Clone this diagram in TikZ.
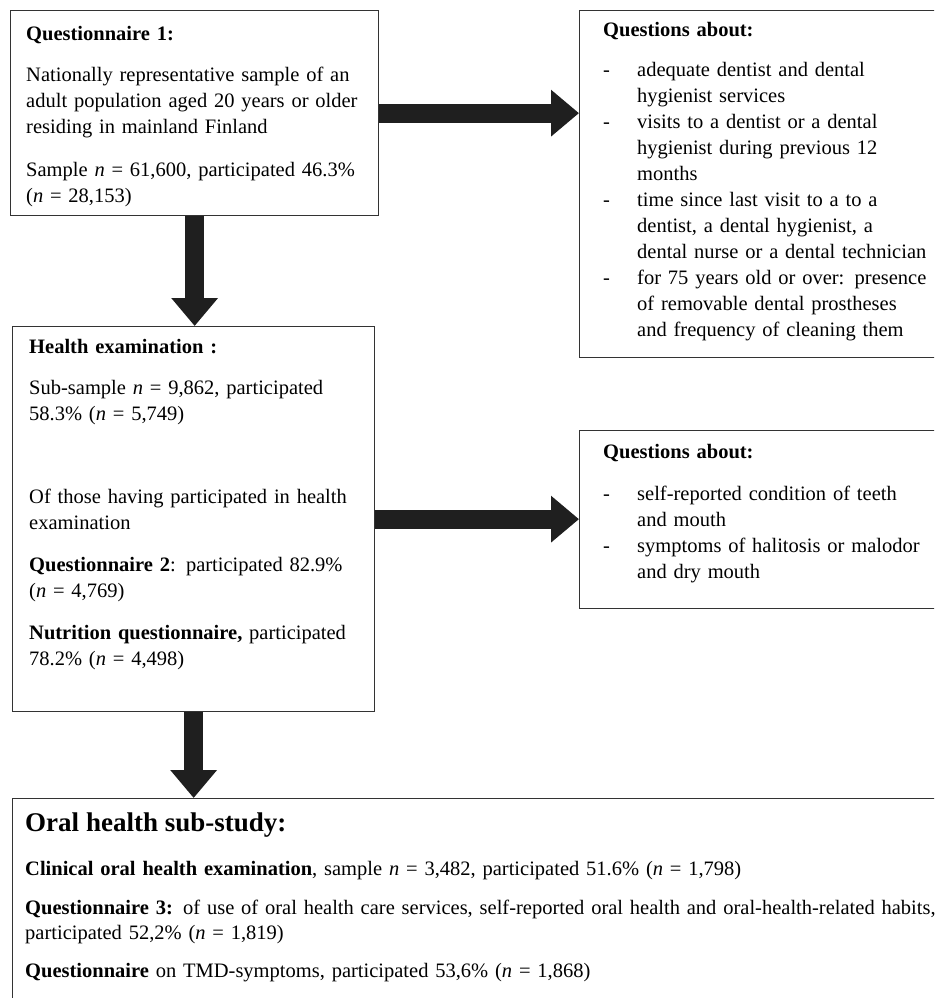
\documentclass[tikz,border=0pt]{standalone}
\usepackage{fontspec}
\setmainfont{Liberation Serif}
\usetikzlibrary{arrows.meta,positioning}
\def\listdash{\makebox[34pt][l]{-}}
\def\listskip{\hspace*{34pt}}

\begin{document}
\begin{tikzpicture}[x=1pt,y=-1pt,
	box/.style={draw=black!80, line width=1.3pt, anchor=north west, inner sep=0pt},
	txt/.style={anchor=north west, inner sep=0pt, align=left, text width=#1, font=\fontsize{20.5}{26}\selectfont},
	txt/.default=340pt,
	fatarrow/.style={draw=black!88, line width=19pt, -{Triangle[length=28pt,width=45pt]}}]
			%%%%% START %%%%%
			
			\useasboundingbox (0, 0) rectangle (934, 998);
			\clip (0, 0) rectangle (934, 998);
			
			\node[box, minimum width=368pt, minimum height=205pt] (q1) at (10, 10) {};
			\node[box, minimum width=362pt, minimum height=385pt] (he) at (12, 326) {};
			\node[box, minimum width=380pt, minimum height=347pt] (qa) at (579, 10) {};
			\node[box, minimum width=380pt, minimum height=178pt] (qb) at (579, 430) {};
			\node[box, minimum width=960pt, minimum height=260pt] (oral) at (12, 798) {};
			
			\node[txt, below right=15.8pt and 16pt of q1.north west] (q1text) {%
				\textbf{Questionnaire 1:}\\[15pt]
				Nationally representative sample of an\\
				adult population aged 20 years or older\\
				residing in mainland Finland\\[17pt]
				Sample \textit{n} = 61,600, participated 46.3\%\\
				(\textit{n} = 28,153)};
			
			\node[txt, below right=13pt and 17pt of he.north west] (hetext) {%
				\textbf{Health examination :}\\[15pt]
				Sub-sample \textit{n} = 9,862, participated\\
				58.3\% (\textit{n} = 5,749)\\[57pt]
				Of those having participated in health\\
				examination\\[16pt]
				\textbf{Questionnaire 2}: participated 82.9\%\\
				(\textit{n} = 4,769)\\[16pt]
				\textbf{Nutrition questionnaire,} participated\\
				78.2\% (\textit{n} = 4,498)};
			
			\node[txt, below right=12pt and 24pt of qa.north west] (qatext) {%
				\textbf{Questions about:}\\[14pt]
				\listdash adequate dentist and dental\\
				\listskip hygienist services\\
				\listdash visits to a dentist or a dental\\
				\listskip hygienist during previous 12\\
				\listskip months\\
				\listdash time since last visit to a to a\\
				\listskip dentist, a dental hygienist, a\\
				\listskip dental nurse or a dental technician\\
				\listdash for 75 years old or over: presence\\
				\listskip of removable dental prostheses\\
				\listskip and frequency of cleaning them};
			
			\node[txt, below right=14.5pt and 24pt of qb.north west] (qbtext) {%
				\textbf{Questions about:}\\[16pt]
				\listdash self-reported condition of teeth\\
				\listskip and mouth\\
				\listdash symptoms of halitosis or malodor\\
				\listskip and dry mouth};
			
			\node[txt=1000pt, font=\fontsize{20.5}{25}\selectfont, below right=14.5pt and 13pt of oral.north west] (oraltext) {%
				{\fontsize{27}{32}\selectfont\bfseries Oral health sub-study:}\\[19pt]
				\textbf{Clinical oral health examination}, sample \textit{n} = 3,482, participated 51.6\% (\textit{n} = 1,798)\\[14pt]
				\textbf{Questionnaire 3:} of use of oral health care services, self-reported oral health and oral-health-related habits,\\
				participated 52,2\% (\textit{n} = 1,819)\\[13pt]
				\textbf{Questionnaire} on TMD-symptoms, participated 53,6\% (\textit{n} = 1,868)};
			
			\draw[fatarrow] (q1.east) -- (q1.east -| qa.west);
			\draw[fatarrow] (q1.south) -- (q1.south |- he.north);
			\draw[fatarrow] (he.east) -- (he.east -| qb.west);
			\draw[fatarrow] (he.south) -- (he.south |- oral.north);
			
			%%%%% END %%%%%
\end{tikzpicture}
\end{document}
